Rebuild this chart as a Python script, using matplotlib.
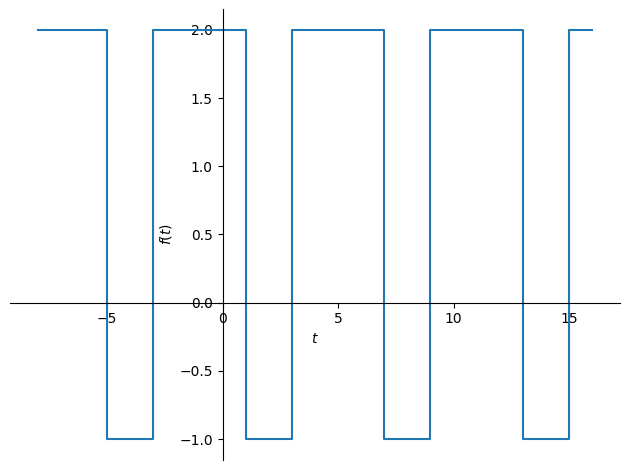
import matplotlib
matplotlib.use("Agg")
from matplotlib import pyplot as plt

# switching times of the square wave and the level held after each one
edges = [-8, -5, -3, 1, 3, 7, 9, 13, 15, 16]
levels = [2, -1, 2, -1, 2, -1, 2, -1, 2]

fig, ax = plt.subplots(figsize=(6.3, 4.7), dpi=100)
ax.step(edges, levels + [levels[-1]], where="post", color="#1f77b4")

# sympy-like axes through the origin
ax.spines["left"].set_position("zero")
ax.spines["bottom"].set_position("zero")
ax.spines["right"].set_color("none")
ax.spines["top"].set_color("none")
ax.xaxis.set_ticks_position("bottom")
ax.yaxis.set_ticks_position("left")
ax.set_xlabel("$t$")
ax.set_ylabel("$f{\\left(t \\right)}$")

fig.subplots_adjust(left=0.0159, right=0.984, bottom=0.0223, top=0.980)
fig.savefig("out.png")
